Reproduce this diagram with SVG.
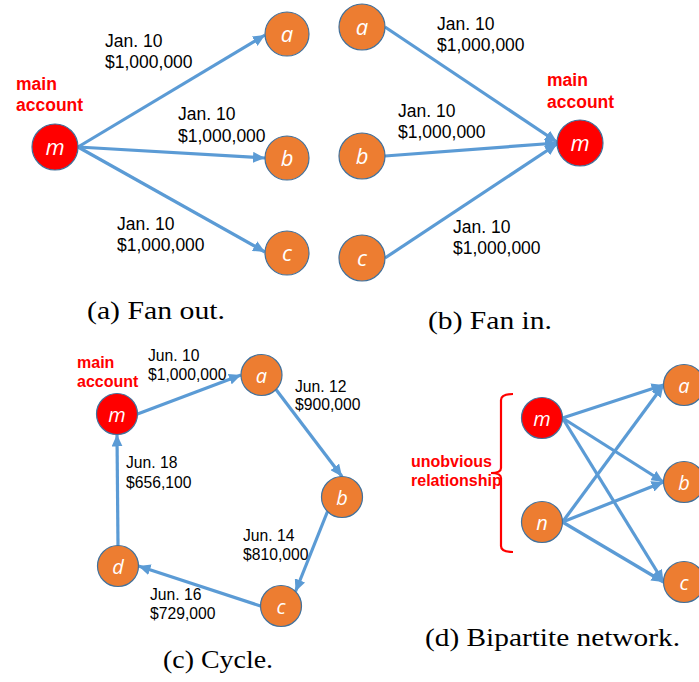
<svg xmlns="http://www.w3.org/2000/svg" width="699" height="682" viewBox="0 0 699 682">
  <style>
    .org { fill: #ED7D31; stroke: #41719C; stroke-width: 1.2; }
    .red { fill: #FF0000; stroke: #41719C; stroke-width: 1.2; }
    .nl { font-family: "Open Sans", "Liberation Sans", sans-serif; font-style: italic; fill: #FFFFFF; text-anchor: middle; }
    .big { font-size: 22px; }
    .sm { font-size: 20px; }
    .edge { stroke: #5B9BD5; stroke-width: 3.2; fill: none; marker-end: url(#arrow); }
    .tx { font-family: "Liberation Sans", Arial, sans-serif; fill: #000; }
    .tx1 { font-size: 17.5px; }
    .tx2 { font-size: 15.7px; }
    .note { font-family: "Liberation Sans", Arial, sans-serif; font-weight: bold; fill: #FF0000; }
    .cap { font-family: "Liberation Serif", "Times New Roman", serif; font-size: 25px; fill: #000; }
  </style>
  <defs>
    <marker id="arrow" markerUnits="userSpaceOnUse" markerWidth="13" markerHeight="11" refX="12" refY="5.5" orient="auto">
      <path d="M0,0 L12,5.5 L0,11 z" fill="#5B9BD5"/>
    </marker>
  </defs>

  <!-- connectors -->
  <g id="connectors">
    <!-- (a) fan out -->
    <path class="edge" d="M78,147 L265,35"/>
    <path class="edge" d="M78,147 L265,158"/>
    <path class="edge" d="M78,147 L265,252"/>
    <!-- (b) fan in -->
    <path class="edge" d="M385,27 L557,142"/>
    <path class="edge" d="M385,156 L557,143"/>
    <path class="edge" d="M385,258 L557,144"/>
    <!-- (c) cycle -->
    <path class="edge" d="M137.5,414 L241,375"/>
    <path class="edge" d="M276,389.5 L342,476.5"/>
    <path class="edge" d="M327.5,511.5 L295.5,591.5"/>
    <path class="edge" d="M260.5,606 L138.5,566"/>
    <path class="edge" d="M118,545.5 L117,434.5"/>
    <!-- (d) bipartite -->
    <path class="edge" d="M562.5,418 L663.5,385"/>
    <path class="edge" d="M562.5,418 L663.5,482"/>
    <path class="edge" d="M562.5,418 L663.5,582"/>
    <path class="edge" d="M562.5,522 L663.5,385"/>
    <path class="edge" d="M562.5,522 L663.5,482"/>
    <path class="edge" d="M562.5,522 L663.5,582"/>
  </g>

  <!-- (a) fan out -->
  <g id="fanout-m"><circle class="red" cx="55" cy="147" r="23"/><text class="nl big" x="55" y="155">m</text></g>
  <g id="fanout-a"><circle class="org" cx="287" cy="34" r="22"/><text class="nl big" x="287" y="42">a</text></g>
  <g id="fanout-b"><circle class="org" cx="287" cy="158" r="22"/><text class="nl big" x="287" y="166">b</text></g>
  <g id="fanout-c"><circle class="org" cx="287" cy="253" r="22"/><text class="nl big" x="287" y="261">c</text></g>
  <g id="fanout-labels">
    <text class="note" font-size="17.5" x="16" y="90">main</text>
    <text class="note" font-size="17.5" x="16" y="111">account</text>
    <text class="tx tx1" x="105" y="47">Jan. 10</text>
    <text class="tx tx1" x="105" y="68">$1,000,000</text>
    <text class="tx tx1" x="178" y="120">Jan. 10</text>
    <text class="tx tx1" x="178" y="142">$1,000,000</text>
    <text class="tx tx1" x="117" y="230">Jan. 10</text>
    <text class="tx tx1" x="117" y="251">$1,000,000</text>
    <text class="cap" x="87" y="319" textLength="138" lengthAdjust="spacingAndGlyphs">(a) Fan out.</text>
  </g>

  <!-- (b) fan in -->
  <g id="fanin-a"><circle class="org" cx="362" cy="27" r="23"/><text class="nl big" x="362" y="35">a</text></g>
  <g id="fanin-b"><circle class="org" cx="362" cy="156" r="23"/><text class="nl big" x="362" y="164">b</text></g>
  <g id="fanin-c"><circle class="org" cx="362" cy="258" r="23"/><text class="nl big" x="362" y="266">c</text></g>
  <g id="fanin-m"><circle class="red" cx="580" cy="143" r="23"/><text class="nl big" x="580" y="151">m</text></g>
  <g id="fanin-labels">
    <text class="note" font-size="17.5" x="547" y="86">main</text>
    <text class="note" font-size="17.5" x="547" y="108">account</text>
    <text class="tx tx1" x="437" y="30">Jan. 10</text>
    <text class="tx tx1" x="437" y="51">$1,000,000</text>
    <text class="tx tx1" x="398" y="117">Jan. 10</text>
    <text class="tx tx1" x="398" y="138">$1,000,000</text>
    <text class="tx tx1" x="453" y="233">Jan. 10</text>
    <text class="tx tx1" x="453" y="254">$1,000,000</text>
    <text class="cap" x="428" y="329" textLength="124" lengthAdjust="spacingAndGlyphs">(b) Fan in.</text>
  </g>

  <!-- (c) cycle -->
  <g id="cycle-m"><circle class="red" cx="117" cy="414" r="20.5"/><text class="nl sm" x="117" y="421.5">m</text></g>
  <g id="cycle-a"><circle class="org" cx="261.5" cy="375" r="20.5"/><text class="nl sm" x="261.5" y="382.5">a</text></g>
  <g id="cycle-b"><circle class="org" cx="342" cy="497" r="20.5"/><text class="nl sm" x="342" y="504.5">b</text></g>
  <g id="cycle-c"><circle class="org" cx="281" cy="606" r="20.5"/><text class="nl sm" x="281" y="613.5">c</text></g>
  <g id="cycle-d"><circle class="org" cx="118" cy="566" r="20.5"/><text class="nl sm" x="118" y="573.5">d</text></g>
  <g id="cycle-labels">
    <text class="note" font-size="16" x="77" y="368">main</text>
    <text class="note" font-size="16" x="77" y="387">account</text>
    <text class="tx tx2" x="148" y="361">Jun. 10</text>
    <text class="tx tx2" x="148" y="380">$1,000,000</text>
    <text class="tx tx2" x="295" y="392">Jun. 12</text>
    <text class="tx tx2" x="295" y="410">$900,000</text>
    <text class="tx tx2" x="126" y="468">Jun. 18</text>
    <text class="tx tx2" x="126" y="488">$656,100</text>
    <text class="tx tx2" x="243" y="541">Jun. 14</text>
    <text class="tx tx2" x="243" y="560">$810,000</text>
    <text class="tx tx2" x="150" y="600">Jun. 16</text>
    <text class="tx tx2" x="150" y="619">$729,000</text>
    <text class="cap" x="163" y="668" textLength="110" lengthAdjust="spacingAndGlyphs">(c) Cycle.</text>
  </g>

  <!-- (d) bipartite network -->
  <g id="bip-m"><circle class="red" cx="542" cy="418" r="20.5"/><text class="nl sm" x="542" y="425.5">m</text></g>
  <g id="bip-n"><circle class="org" cx="542" cy="522" r="20.5"/><text class="nl sm" x="542" y="529.5">n</text></g>
  <g id="bip-a"><circle class="org" cx="684" cy="385" r="20.5"/><text class="nl sm" x="684" y="392.5">a</text></g>
  <g id="bip-b"><circle class="org" cx="684" cy="482" r="20.5"/><text class="nl sm" x="684" y="489.5">b</text></g>
  <g id="bip-c"><circle class="org" cx="684" cy="582" r="20.5"/><text class="nl sm" x="684" y="589.5">c</text></g>
  <g id="bip-labels">
    <path d="M513,394 Q501,394 501,400 L501,468 Q501,473 491,473 Q501,473 501,478 L501,546 Q501,552 513,552" fill="none" stroke="#FF0000" stroke-width="2.2"/>
    <text class="note" font-size="16" x="411" y="467">unobvious</text>
    <text class="note" font-size="16" x="411" y="486">relationship</text>
    <text class="cap" x="425" y="646" textLength="255" lengthAdjust="spacingAndGlyphs">(d) Bipartite network.</text>
  </g>
</svg>
